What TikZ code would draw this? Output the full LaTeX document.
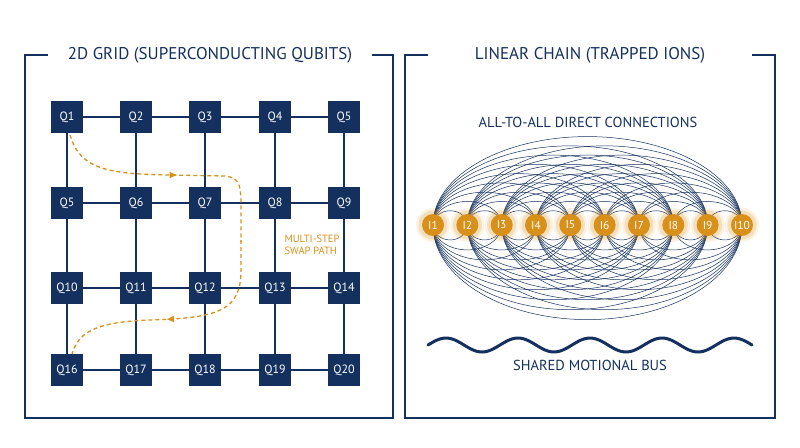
\documentclass[tikz,border=0pt]{standalone}
\usepackage{fontspec}
\setmainfont{PT Sans}
\usetikzlibrary{arrows.meta,decorations.markings}
\definecolor{navy}{HTML}{14305E}
\definecolor{gold}{HTML}{D9901A}
\begin{document}
\begin{tikzpicture}[x=1pt,y=-1pt,
  q/.style={fill=navy,minimum size=32pt,inner sep=0pt,text=white,font=\fontsize{12}{14}\selectfont},
  ion/.style={circle,fill=gold,minimum size=22pt,inner sep=0pt,text=white,font=\fontsize{11.5}{13}\selectfont},
  edge/.style={navy,line width=1.1pt},
  frame/.style={navy,line width=1.2pt},
  title/.style={text=navy,font=\fontsize{17}{19}\selectfont},
  lbl/.style={text=navy,font=\fontsize{14.5}{16}\selectfont},
  swap/.style={gold,line width=1.3pt,dash pattern=on 4pt off 3pt,
     decoration={markings,mark=at position #1 with {\arrow{Triangle[length=7pt,width=6pt]}}},postaction={decorate}},
  link/.style={navy,line width=0.5pt}]
\useasboundingbox (0,0) rectangle (800,447);
% frames
\coordinate (L1) at (48,55); \coordinate (L2) at (25,55); \coordinate (L3) at (25,418);
\coordinate (L4) at (393,418); \coordinate (L5) at (393,55); \coordinate (L6) at (372,55);
\draw[frame] (L1) -- (L2) -- (L3) -- (L4) -- (L5) -- (L6);
\node[title] (t1) at (210,55) {2D GRID (SUPERCONDUCTING QUBITS)};
\coordinate (R1) at (428,55); \coordinate (R2) at (405,55); \coordinate (R3) at (405,418);
\coordinate (R4) at (775,418); \coordinate (R5) at (775,55); \coordinate (R6) at (752,55);
\draw[frame] (R1) -- (R2) -- (R3) -- (R4) -- (R5) -- (R6);
\node[title] (t2) at (590,55) {LINEAR CHAIN (TRAPPED IONS)};
% grid
\foreach \n/\x/\y in {1/67/117,2/136/117,3/205/117,4/275/117,5/344/117,
  5b/67/203,6/136/203,7/205/203,8/275/203,9/344/203,
  10/67/288,11/136/288,12/205/288,13/275/288,14/344/288,
  16/67/370,17/136/370,18/205/370,19/275/370,20/344/370}
  \coordinate (c\n) at (\x,\y);
\foreach \a/\b in {1/2,2/3,3/4,4/5,5b/6,6/7,7/8,8/9,10/11,11/12,12/13,13/14,16/17,17/18,18/19,19/20,
  1/5b,5b/10,10/16,2/6,6/11,11/17,3/7,7/12,12/18,4/8,8/13,13/19,5/9,9/14,14/20}
  \draw[edge] (c\a) -- (c\b);
\foreach \n/\t in {1/Q1,2/Q2,3/Q3,4/Q4,5/Q5,5b/Q5,6/Q6,7/Q7,8/Q8,9/Q9,10/Q10,11/Q11,12/Q12,13/Q13,14/Q14,16/Q16,17/Q17,18/Q18,19/Q19,20/Q20}
  \node[q] (Q\n) at (c\n) {\t};
% swap path
\draw[swap=0.5] (70,135) .. controls (80,170) and (110,174) .. (170,175) -- (225,176) .. controls (240,178) and (240,185) .. (241,200) -- (241,242);
\draw[swap=0.55] (241,240) -- (241,270) .. controls (241,310) and (220,318) .. (150,320) .. controls (90,322) and (78,335) .. (72,354);
\node[text=gold,font=\fontsize{10.5}{12.5}\selectfont,align=left] (sp) at (312,245) {MULTI-STEP\\SWAP PATH};
% ions
\foreach \i in {1,...,10} \coordinate (p\i) at ({433+34.33*(\i-1)},225);
\foreach \i in {1,...,9}{
  \pgfmathtruncatemacro{\s}{\i+1}
  \foreach \j in {\s,...,10}{
    \pgfmathsetmacro{\d}{34.33*(\j-\i)}
    \draw[link] (p\i) arc[start angle=180,end angle=360,x radius=\d/2,y radius={0.27*\d+5}];
    \draw[link] (p\i) arc[start angle=180,end angle=0,x radius=\d/2,y radius={0.29*\d+5}];
  }}
\foreach \i in {1,...,10}{
  \fill[gold,opacity=0.12] (p\i) circle (17);
  \fill[gold,opacity=0.2] (p\i) circle (14.5);
  \node[ion] (I\i) at (p\i) {I\i};}
\node[lbl] (a2a) at (588,122) {ALL-TO-ALL DIRECT CONNECTIONS};
% bus
\draw[navy,line width=3pt,line cap=round,domain=0:324,samples=120,smooth] plot ({428+\x},{345-7*sin(\x/72*360)});
\node[lbl] (bus) at (590,365) {SHARED MOTIONAL BUS};
\end{tikzpicture}
\end{document}
